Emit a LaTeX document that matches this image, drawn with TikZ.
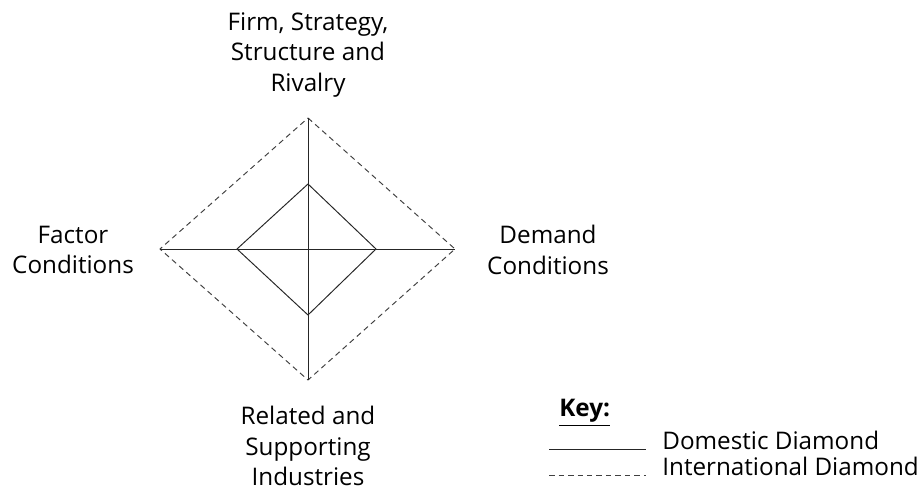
\documentclass[tikz,border=0pt]{standalone}
\usepackage{fontspec}
\setmainfont{Open Sans}

\begin{document}
\begin{tikzpicture}[x=0.02cm, y=-0.02cm,
	rotulo/.style={align=center, inner sep=0pt, font=\fontsize{13.8}{17.4}\selectfont},
	interno/.style={draw=black!85, line width=0.55pt},
	externo/.style={draw=black!75, line width=0.55pt, dash pattern=on 0.11cm off 0.08cm}]

\useasboundingbox (0,0) rectangle (920,489);

% Diamante externo
\coordinate (T) at (308,118);
\coordinate (B) at (308,380);
\coordinate (L) at (160,249);
\coordinate (R) at (455,249);

% Diamante interno
\coordinate (t) at (308,184);
\coordinate (b) at (308,315);
\coordinate (l) at (237,249);
\coordinate (r) at (376,249);

	\draw[externo] (T) -- (R) -- (B) -- (L) -- cycle;
	\draw[interno] (T) -- (B);
	\draw[interno] (L) -- (R);
	\draw[interno] (t) -- (r) -- (b) -- (l) -- cycle;

% Rotulos
\node[rotulo] (FE) at (308,55) {Firm, Strategy,\\Structure and\\Rivalry};
\node[rotulo] (FC) at (73,250) {Factor\\Conditions};
\node[rotulo] (DC) at (548,250) {Demand\\Conditions};
\node[rotulo] (RS) at (308,446) {Related and\\Supporting\\Industries};

% Legenda
\node[rotulo, anchor=base west] (K) at (559,417) {\underline{\textbf{Key:}}};

\coordinate (S1) at (549,449);
\coordinate (S2) at (646,449);
\coordinate (D1) at (549,475);
\coordinate (D2) at (646,475);

	\draw[interno] (S1) -- (S2);
	\draw[externo] (D1) -- (D2);

\node[rotulo, anchor=base west] (DD) at (662,450) {Domestic Diamond};
\node[rotulo, anchor=base west] (ID) at (662,476) {International Diamond};
\end{tikzpicture}
\end{document}
